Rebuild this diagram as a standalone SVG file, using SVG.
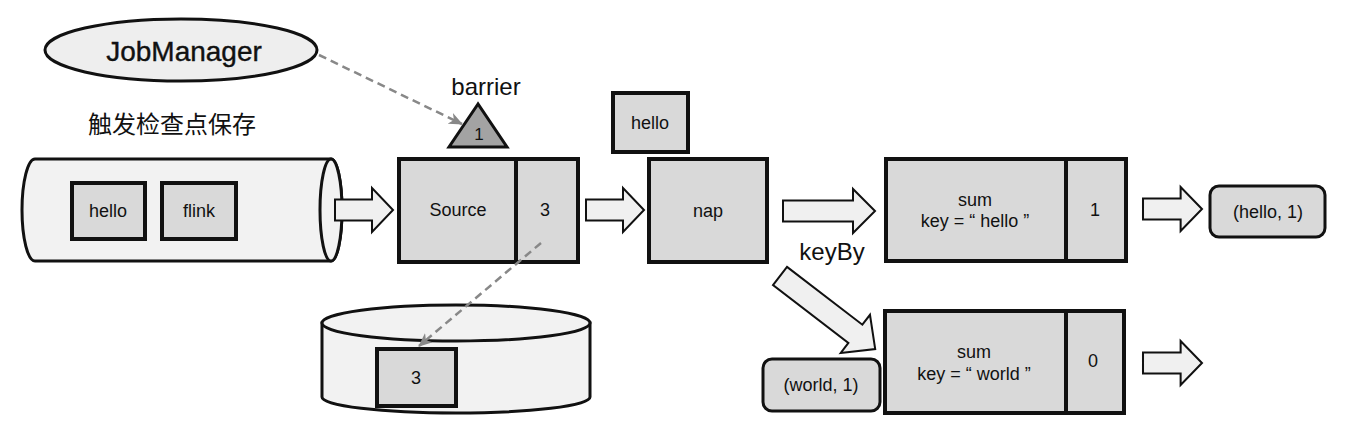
<svg xmlns="http://www.w3.org/2000/svg" width="1352" height="436" viewBox="0 0 1352 436">
<style>
text{font-family:"Liberation Sans",Arial,sans-serif;fill:#111;text-anchor:middle;dominant-baseline:central}
.box{fill:#d9d9d9;stroke:#111;stroke-width:4}
.cyl{fill:#f2f2f2;stroke:#111;stroke-width:3}
.harrow{fill:#f0f0f0;stroke:#111;stroke-width:2}
.dash{fill:none;stroke:#888;stroke-width:2.5;stroke-dasharray:8,5}
.lbl{font-size:18px}
.big{font-size:24px}
</style>
<defs>
<marker id="ah" viewBox="0 0 14 12" refX="13" refY="6" markerWidth="14" markerHeight="12" markerUnits="userSpaceOnUse" orient="auto">
<path d="M0,0 L14,6 L0,12 L4,6 Z" fill="#888"/>
</marker>
<path id="ha" d="M0,-10.5 L37,-10.5 L37,-22 L58,0 L37,22 L37,10.5 L0,10.5 Z"/>
</defs>

<g id="jobmanager">
<ellipse cx="181" cy="50" rx="136" ry="31" fill="#eeeeee" stroke="#111" stroke-width="3"/>
<text x="184" y="51" style="font-size:28px;stroke:#111;stroke-width:0.4">JobManager</text>
</g>
<g id="trigger-label"><text x="172" y="122" style="font-size:24px;font-family:'Noto Sans CJK SC',sans-serif">触发检查点保存</text></g>

<g id="barrier">
<text x="486" y="86" class="big">barrier</text>
<path d="M478,104 L449,147 L507,147 Z" fill="#a3a3a3" stroke="#111" stroke-width="3" stroke-linejoin="miter"/>
<text x="479" y="134" style="font-size:17px">1</text>
</g>

<g id="stream">
<path class="cyl" d="M35,159 L331,159 A11,51 0 0 1 331,261 L35,261 A13,51 0 0 1 35,159 Z"/>
<ellipse class="cyl" cx="331" cy="210" rx="11" ry="51"/>
<g id="stream-hello"><rect class="box" x="72" y="183" width="73" height="56"/><text x="108" y="211" class="lbl">hello</text></g>
<g id="stream-flink"><rect class="box" x="162" y="183" width="74" height="56"/><text x="199" y="211" class="lbl">flink</text></g>
</g>

<g id="source">
<rect class="box" x="399" y="159" width="179" height="103"/>
<line x1="516" y1="159" x2="516" y2="262" stroke="#111" stroke-width="4"/>
<text x="458" y="210" class="lbl">Source</text>
<text x="545" y="210" class="lbl">3</text>
</g>

<g id="state-store">
<path class="cyl" d="M322,323 L322,397 A134,16 0 0 0 590,397 L590,323 Z"/>
<ellipse class="cyl" cx="456" cy="323" rx="134" ry="18"/>
<g id="store-3"><rect class="box" x="377" y="349" width="79" height="57"/><text x="416" y="378" class="lbl">3</text></g>
</g>

<g id="hello-record"><rect class="box" x="613" y="93" width="75" height="59"/><text x="650" y="123" class="lbl">hello</text></g>

<g id="nap"><rect class="box" x="649" y="159" width="118" height="103"/><text x="708" y="211" class="lbl">nap</text></g>

<g id="keyby-label"><text x="832" y="251" class="big">keyBy</text></g>

<g id="sum-hello">
<rect class="box" x="886" y="159" width="240" height="102"/>
<line x1="1066" y1="159" x2="1066" y2="261" stroke="#111" stroke-width="4"/>
<text x="975" y="200" class="lbl">sum</text>
<text x="975" y="221" class="lbl">key = “ hello ”</text>
<text x="1095" y="210" class="lbl">1</text>
</g>

<g id="out-hello"><rect class="box" x="1210" y="186" width="115" height="51" rx="9" style="stroke-width:3"/><text x="1268" y="212" class="lbl">(hello, 1)</text></g>

<g id="sum-world">
<rect class="box" x="885" y="311" width="239" height="102"/>
<line x1="1066" y1="311" x2="1066" y2="413" stroke="#111" stroke-width="4"/>
<text x="974" y="352" class="lbl">sum</text>
<text x="974" y="374" class="lbl">key = “ world ”</text>
<text x="1093" y="361" class="lbl">0</text>
</g>

<g id="out-world"><rect class="box" x="763" y="359" width="117" height="52" rx="9" style="stroke-width:3"/><text x="821" y="385" class="lbl">(world, 1)</text></g>

<g id="connectors">
<path class="dash" d="M319,55 L462,124" marker-end="url(#ah)"/>
<path class="dash" d="M541,243 L419,346" marker-end="url(#ah)"/>
<use href="#ha" class="harrow" transform="translate(335,210)"/>
<use href="#ha" class="harrow" transform="translate(586,210)"/>
<path class="harrow" d="M783,200.5 L853,200.5 L853,189 L875,211 L853,233 L853,221.5 L783,221.5 Z"/>
<use href="#ha" class="harrow" transform="translate(1143,209) scale(1.017,1)"/>
<use href="#ha" class="harrow" transform="translate(1143,363) scale(1.017,1)"/>
<path class="harrow" transform="translate(780,276) rotate(37.5)" d="M0,-11.5 L95,-11.5 L95,-24 L120,0 L95,24 L95,11.5 L0,11.5 Z"/>
</g>
</svg>
